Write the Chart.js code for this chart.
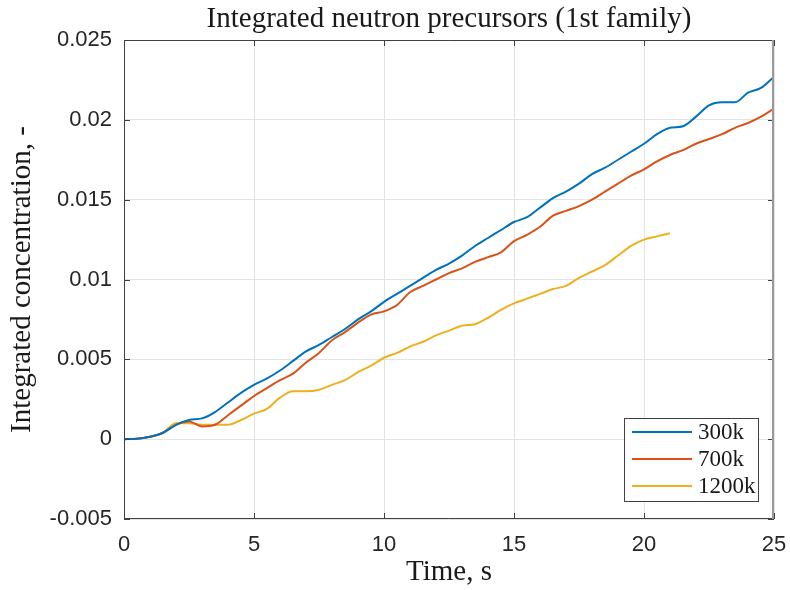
<!DOCTYPE html>
<html>
<head>
<meta charset="utf-8">
<script src="https://cdn.jsdelivr.net/npm/chart.js@4.4.1/dist/chart.umd.min.js"></script>
<style>
  html, body { margin: 0; padding: 0; background: #fff; }
  #wrap { width: 790px; height: 590px; }
</style>
</head>
<body>
<div id="wrap"><canvas id="grafico" width="790" height="590"></canvas></div>
<script>
// time samples, s
const tempo = [0, 0.5, 1, 1.5, 2, 2.5, 3, 3.5, 4, 4.5, 5, 5.5, 6, 6.5, 7, 7.5, 8, 8.5, 9, 9.5,
  10, 10.5, 11, 11.5, 12, 12.5, 13, 13.5, 14, 14.5, 15, 15.5, 16, 16.5, 17, 17.5, 18, 18.5, 19, 19.5,
  20, 20.5, 21, 21.5, 22, 22.5, 23, 23.5, 24, 24.5, 25];

const mesh300k = [0, 0.00002, 0.00015, 0.0004, 0.0009, 0.0012, 0.0013, 0.0017, 0.0023, 0.0029,
  0.0034, 0.0038, 0.0043, 0.0049, 0.0055, 0.0059, 0.0064, 0.0069, 0.0075, 0.0080,
  0.0086, 0.0091, 0.0096, 0.0101, 0.0106, 0.0110, 0.0115, 0.0121, 0.0126, 0.0131,
  0.0136, 0.0139, 0.0145, 0.0151, 0.0155, 0.0160, 0.0166, 0.0170, 0.0175, 0.0180,
  0.0185, 0.0191, 0.0195, 0.0196, 0.0202, 0.0209, 0.0211, 0.0211, 0.0217, 0.0220, 0.0227];

const mesh700k = [0, 0.00002, 0.00015, 0.0004, 0.0009, 0.0011, 0.0008, 0.0009, 0.0015, 0.0021,
  0.0027, 0.0032, 0.0037, 0.0041, 0.0048, 0.0054, 0.0062, 0.0067, 0.0073, 0.0078,
  0.0080, 0.0084, 0.0092, 0.0096, 0.0100, 0.0104, 0.0107, 0.0111, 0.0114, 0.0117,
  0.0124, 0.0128, 0.0133, 0.0140, 0.0143, 0.0146, 0.0150, 0.0155, 0.0160, 0.0165,
  0.0169, 0.0174, 0.0178, 0.0181, 0.0185, 0.0188, 0.0191, 0.0195, 0.0198, 0.0202, 0.0207];

// the 1200k run stops at 21 s
const mesh1200k = [0, 0.00002, 0.00015, 0.0004, 0.0010, 0.0010, 0.0009, 0.0009, 0.0009, 0.0012,
  0.0016, 0.0019, 0.0026, 0.0030, 0.0030, 0.0031, 0.0034, 0.0037, 0.0042, 0.0046,
  0.0051, 0.0054, 0.0058, 0.0061, 0.0065, 0.0068, 0.0071, 0.0072, 0.0076, 0.0081,
  0.0085, 0.0088, 0.0091, 0.0094, 0.0096, 0.0101, 0.0105, 0.0109, 0.0115, 0.0121,
  0.0125, 0.0127, 0.0129];

const rotulos = ['300k', '700k', '1200k'];
const cores = ['#0072BD', '#D95319', '#EDB120'];
const series = [mesh300k, mesh700k, mesh1200k];
const titulo = 'Integrated neutron precursors (1st family)';

const serif = '"Liberation Serif", "DejaVu Serif", serif';
const sans = '"Liberation Sans", Arial, sans-serif';

function pontos(valores) {
  return valores.map((v, i) => ({ x: tempo[i], y: v }));
}

// title over the axes, frame, inward ticks and the legend box
const moldura = {
  id: 'moldura',
  afterDraw(chart) {
    const { ctx, chartArea: a, scales: { x, y } } = chart;
    ctx.save();
    ctx.font = '29px ' + serif;
    ctx.fillStyle = '#1a1a1a';
    ctx.textAlign = 'center';
    ctx.textBaseline = 'middle';
    ctx.fillText(titulo, (a.left + a.right) / 2, 19);
    ctx.textAlign = 'left';

    ctx.lineWidth = 1;
    ctx.strokeStyle = '#404040';
    ctx.beginPath();
    x.ticks.forEach(t => {
      const px = Math.round(x.getPixelForValue(t.value)) + 0.5;
      ctx.moveTo(px, a.bottom); ctx.lineTo(px, a.bottom - 6);
      ctx.moveTo(px, a.top); ctx.lineTo(px, a.top + 6);
    });
    y.ticks.forEach(t => {
      const py = Math.round(y.getPixelForValue(t.value)) + 0.5;
      ctx.moveTo(a.left, py); ctx.lineTo(a.left + 6, py);
      ctx.moveTo(a.right, py); ctx.lineTo(a.right - 6, py);
    });
    ctx.stroke();

    ctx.beginPath();
    ctx.moveTo(a.right, a.top + 0.5);
    ctx.lineTo(a.left + 0.5, a.top + 0.5);
    ctx.lineTo(a.left + 0.5, a.bottom - 0.5);
    ctx.lineTo(a.right, a.bottom - 0.5);
    ctx.stroke();
    ctx.strokeStyle = '#9a9a9a';
    ctx.lineWidth = 2;
    ctx.beginPath();
    ctx.moveTo(a.right - 1, a.top);
    ctx.lineTo(a.right - 1, a.bottom);
    ctx.stroke();

    // legend
    const lx = 624, ly = 418, lw = 134, lh = 83;
    ctx.fillStyle = '#fff';
    ctx.fillRect(lx, ly, lw, lh);
    ctx.strokeStyle = '#404040';
    ctx.lineWidth = 1;
    ctx.strokeRect(lx + 0.5, ly + 0.5, lw, lh);
    ctx.font = '23px ' + serif;
    ctx.textBaseline = 'middle';
    rotulos.forEach((r, i) => {
      const yy = ly + 14 + i * 27;
      ctx.strokeStyle = cores[i];
      ctx.lineWidth = 2;
      ctx.beginPath();
      ctx.moveTo(lx + 8, yy); ctx.lineTo(lx + 68, yy);
      ctx.stroke();
      ctx.fillStyle = '#1a1a1a';
      ctx.fillText(r, lx + 74, yy + 1);
    });
    ctx.restore();
  }
};

const ctx = document.getElementById('grafico').getContext('2d');

const grafico = new Chart(ctx, {
  type: 'line',
  data: {
    datasets: series.map((s, i) => ({
      label: rotulos[i],
      data: pontos(s),
      borderColor: cores[i],
      backgroundColor: cores[i],
      borderWidth: 2,
      pointRadius: 0,
      tension: 0.4,
      cubicInterpolationMode: 'monotone',
      fill: false
    }))
  },
  options: {
    responsive: false,
    animation: false,
    layout: { padding: { top: 40, right: 16, bottom: 0, left: 0 } },
    plugins: {
      legend: { display: false },
      tooltip: { enabled: false },
      title: { display: false }
    },
    scales: {
      x: {
        type: 'linear',
        min: 0,
        max: 25,
        ticks: {
          stepSize: 5,
          color: '#262626',
          font: { family: sans, size: 22 },
          padding: 13,
          maxRotation: 0
        },
        grid: { color: '#e3e3e3', drawTicks: false },
        border: { display: false },
        title: {
          display: true,
          text: 'Time, s',
          color: '#1a1a1a',
          font: { family: serif, size: 29 },
          padding: { top: 0, bottom: 0 }
        },
        afterFit(scale) {
          scale.height = 71;
          scale.paddingLeft = 0;
          scale.paddingRight = 0;
        }
      },
      y: {
        min: -0.005,
        max: 0.025,
        ticks: {
          stepSize: 0.005,
          color: '#262626',
          font: { family: sans, size: 22 },
          padding: 12,
          callback: v => String(parseFloat(v.toFixed(3)))
        },
        grid: { color: '#e3e3e3', drawTicks: false },
        border: { display: false },
        title: {
          display: true,
          text: 'Integrated concentration, -',
          color: '#1a1a1a',
          font: { family: serif, size: 29 },
          padding: { top: 5, bottom: 0 }
        },
        afterFit(scale) {
          scale.width = 124;
          scale.paddingTop = 0;
          scale.paddingBottom = 0;
        }
      }
    }
  },
  plugins: [moldura]
});
</script>
</body>
</html>
